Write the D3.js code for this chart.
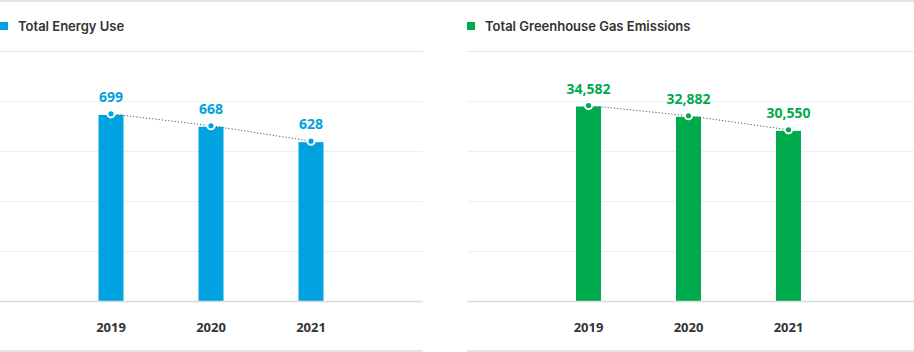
<!DOCTYPE html>
<html>
<head>
<meta charset="utf-8">
<script src="https://cdn.jsdelivr.net/npm/d3@7"></script>
<style>
  html, body { margin: 0; padding: 0; background: #fff; }
  svg { display: block; }
</style>
</head>
<body>
<svg id="chart" width="914" height="352"></svg>
<script>
const years = ["2019", "2020", "2021"];
const energyValues = [699, 668, 628];
const ghgValues = [34582, 32882, 30550];
const panelTitles = ["Total Energy Use", "Total Greenhouse Gas Emissions"];
const panelColors = ["#00a3e0", "#00ab4e"];
const energyDomain = [215, 865];
const ghgDomain = [2300, 43800];

(function () {
const svg = d3.select("#chart");
const fmt = d3.format(",");

// top band
svg.append("rect").attr("x", 0).attr("y", 0).attr("width", 914).attr("height", 2).attr("fill", "#e3e3e3");

const panels = [
  { title: panelTitles[0], color: panelColors[0], values: energyValues, domain: energyDomain,
    x0: 0, x1: 423, band: [61, 361] },
  { title: panelTitles[1], color: panelColors[1], values: ghgValues, domain: ghgDomain,
    x0: 467, x1: 914, band: [538.5, 838.5] }
];

const yTop = 51, base = 301, yBottom = 351;

panels.forEach(p => {
  const g = svg.append("g");
  const x = d3.scaleBand().domain(years).range(p.band);
  const y = d3.scaleLinear().domain(p.domain).range([base, yTop]);

  // legend
  g.append("rect").attr("x", p.x0).attr("y", 22).attr("width", 8).attr("height", 8).attr("fill", p.color);
  g.append("text").attr("x", p.x0 + 18).attr("y", 31)
    .attr("font-family", "Inter, Roboto, sans-serif").attr("font-weight", 600)
    .attr("font-size", 13).attr("fill", "#333").text(p.title);

  // gridlines
  const gridVals = d3.range(1, 5).map(i => p.domain[0] + (p.domain[1] - p.domain[0]) * i / 5);
  const ga = g.append("g").attr("transform", `translate(${p.x0},0)`)
    .call(d3.axisLeft(y).tickValues(gridVals).tickSize(-(p.x1 - p.x0)).tickFormat(""));
  ga.select(".domain").remove();
  ga.selectAll(".tick line").attr("stroke", "#efefef").attr("stroke-width", 1);

  g.append("line").attr("x1", p.x0).attr("x2", p.x1).attr("y1", yTop + 0.5).attr("y2", yTop + 0.5)
    .attr("stroke", "#e3e3e3").attr("stroke-width", 1);
  g.append("line").attr("x1", p.x0).attr("x2", p.x1).attr("y1", yBottom).attr("y2", yBottom)
    .attr("stroke", "#e3e3e3").attr("stroke-width", 2);

  // bars
  const bw = 25;
  g.selectAll("rect.bar").data(p.values).join("rect").attr("class", "bar")
    .attr("x", (d, i) => x(years[i]) + x.bandwidth() / 2 - bw / 2)
    .attr("y", d => y(d))
    .attr("width", bw)
    .attr("height", d => base - y(d))
    .attr("fill", p.color);

  // baseline
  g.append("line").attr("x1", p.x0).attr("x2", p.x1).attr("y1", base + 0.5).attr("y2", base + 0.5)
    .attr("stroke", "#dcdcdc").attr("stroke-width", 1.5);

  // x axis labels
  const xa = g.append("g").attr("transform", `translate(0,${base})`)
    .call(d3.axisBottom(x).tickSize(0).tickPadding(0));
  xa.select(".domain").remove();
  xa.selectAll("text").attr("y", 31).attr("dy", 0)
    .attr("font-family", "'Noto Sans', sans-serif").attr("font-weight", 700)
    .attr("font-size", 13).attr("fill", "#333");

  // dotted line
  const line = d3.line().x((d, i) => x(years[i]) + x.bandwidth() / 2).y(d => y(d) - 1);
  g.append("path").datum(p.values).attr("d", line).attr("fill", "none")
    .attr("stroke", "#555").attr("stroke-width", 1).attr("stroke-dasharray", "1.2,2");

  // dots
  g.selectAll("circle").data(p.values).join("circle")
    .attr("cx", (d, i) => x(years[i]) + x.bandwidth() / 2)
    .attr("cy", d => y(d) - 1)
    .attr("r", 3.6).attr("fill", p.color).attr("stroke", "#fff").attr("stroke-width", 2);

  // value labels
  g.selectAll("text.val").data(p.values).join("text").attr("class", "val")
    .attr("x", (d, i) => x(years[i]) + x.bandwidth() / 2)
    .attr("y", d => y(d) - 13)
    .attr("text-anchor", "middle")
    .attr("font-family", "'Noto Sans', sans-serif").attr("font-weight", 700)
    .attr("font-size", 14).attr("fill", p.color)
    .text(d => fmt(d));
});
})();
</script>
</body>
</html>
